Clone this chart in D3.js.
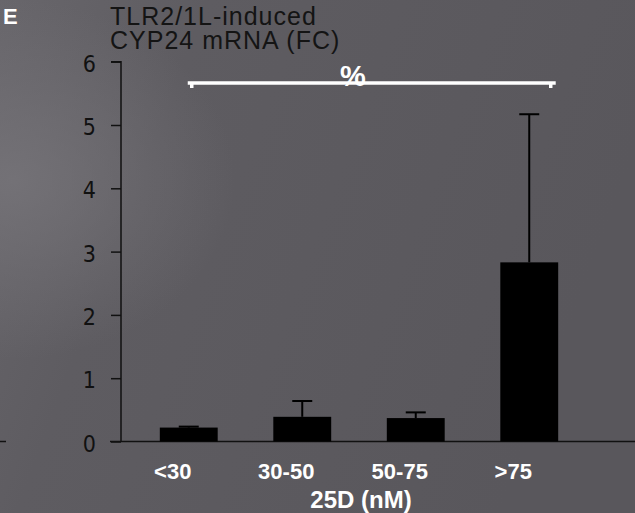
<!DOCTYPE html>
<html>
<head>
<meta charset="utf-8">
<script src="https://cdn.jsdelivr.net/npm/d3@7/dist/d3.min.js"></script>
<style>
  html, body { margin: 0; padding: 0; background: #5c5a5f; }
  svg { display: block; }
</style>
</head>
<body>
<svg id="chart" width="635" height="513"></svg>
<script>
// 25D concentration groups and CYP24 fold change (mean and upper error bound)
const categories = ["<30", "30-50", "50-75", ">75"];
const means = [0.22, 0.39, 0.37, 2.83];
const upperErr = [0.235, 0.64, 0.46, 5.17];
const yTicks = [0, 1, 2, 3, 4, 5, 6];

const svg = d3.select("#chart");
const W = 635, H = 513;
const SANS = "Liberation Sans, Arial, sans-serif";
const NARROW = "Liberation Sans Narrow, Arial Narrow, DejaVu Sans Condensed, sans-serif";

// backdrop: soft grey gradient with a lighter sweep at the upper left
const defs = svg.append("defs");
const lg = defs.append("linearGradient").attr("id", "bg")
  .attr("x1", "0").attr("y1", "0").attr("x2", "1").attr("y2", "0.3");
lg.append("stop").attr("offset", "0").attr("stop-color", "#68666b");
lg.append("stop").attr("offset", "0.3").attr("stop-color", "#5e5c61");
lg.append("stop").attr("offset", "1").attr("stop-color", "#59575c");
const rg = defs.append("radialGradient").attr("id", "glow")
  .attr("cx", "0.02").attr("cy", "0.35").attr("r", "0.35");
rg.append("stop").attr("offset", "0").attr("stop-color", "#77757a").attr("stop-opacity", 0.8);
rg.append("stop").attr("offset", "1").attr("stop-color", "#77757a").attr("stop-opacity", 0);

svg.append("rect").attr("width", W).attr("height", H).attr("fill", "url(#bg)");
svg.append("rect").attr("width", W).attr("height", H).attr("fill", "url(#glow)");

const x = d3.scaleBand()
  .domain(categories)
  .range([132, 586])
  .paddingInner(0.49)
  .paddingOuter(0.245);

const y = d3.scaleLinear().domain([0, 6]).range([441.5, 61.7]);
const axisX = 121;

// stray axis stub from the neighbouring panel
svg.append("line")
  .attr("x1", 0).attr("x2", 6).attr("y1", y(0)).attr("y2", y(0))
  .attr("stroke", "#111").attr("stroke-width", 1.5);

// panel letter
svg.append("text")
  .attr("x", 3).attr("y", 24)
  .attr("font-family", SANS)
  .attr("font-weight", "bold").attr("font-size", 22)
  .attr("fill", "#fff").text("E");

// y-axis title (two lines)
const title = svg.append("text")
  .attr("font-family", SANS)
  .attr("font-size", 25).attr("letter-spacing", 1)
  .attr("fill", "#141414");
title.append("tspan").attr("x", 110).attr("y", 25).text("TLR2/1L-induced");
title.append("tspan").attr("x", 110).attr("y", 49).text("CYP24 mRNA (FC)");

// y axis
const yAxis = d3.axisLeft(y).tickValues(yTicks).tickFormat(d3.format("d"))
  .tickSize(10).tickPadding(15);
const gy = svg.append("g").attr("transform", `translate(${axisX},0)`).call(yAxis);
gy.attr("font-size", null).attr("font-family", null);
gy.select(".domain").attr("stroke", "#111").attr("stroke-width", 1.5)
  .attr("d", `M-10,${y(6)}H0V${y(0)}`);
gy.selectAll(".tick line").attr("stroke", "#111").attr("stroke-width", 1.5);
gy.selectAll(".tick text")
  .style("font-family", NARROW)
  .style("font-size", "23px")
  .attr("fill", "#111").attr("dy", "0.42em");

// x baseline
svg.append("line")
  .attr("x1", 110).attr("x2", W).attr("y1", y(0)).attr("y2", y(0))
  .attr("stroke", "#111").attr("stroke-width", 1.5);

// bars
svg.append("g").selectAll("rect")
  .data(categories)
  .join("rect")
  .attr("x", d => x(d))
  .attr("width", x.bandwidth())
  .attr("y", (d, i) => y(means[i]))
  .attr("height", (d, i) => y(0) - y(means[i]))
  .attr("fill", "#000");

// upper error bars
const capW = 20;
const eb = svg.append("g").attr("stroke", "#000").attr("stroke-width", 2);
categories.forEach((c, i) => {
  const cx = x(c) + x.bandwidth() / 2;
  eb.append("line").attr("x1", cx).attr("x2", cx)
    .attr("y1", y(means[i])).attr("y2", y(upperErr[i]));
  eb.append("line").attr("x1", cx - capW / 2).attr("x2", cx + capW / 2)
    .attr("y1", y(upperErr[i])).attr("y2", y(upperErr[i]));
});

// category labels
svg.append("g").selectAll("text")
  .data(categories)
  .join("text")
  .attr("x", d => x(d) + x.bandwidth() / 2 - 16)
  .attr("y", 479)
  .attr("text-anchor", "middle")
  .attr("font-family", SANS)
  .attr("font-weight", "bold").attr("font-size", 22)
  .attr("fill", "#fff")
  .text(d => d);

// x-axis title
svg.append("text")
  .attr("x", 361).attr("y", 508)
  .attr("text-anchor", "middle")
  .attr("font-family", SANS)
  .attr("font-weight", "bold").attr("font-size", 24)
  .attr("fill", "#fff").text("25D (nM)");

// significance bracket between the lowest and highest groups
const bx1 = x(categories[0]) + x.bandwidth() / 2;
const bx2 = x(categories[3]) + x.bandwidth() * 0.94;
const by = 83;
const br = svg.append("g").attr("stroke", "#fff").attr("stroke-width", 3.5).attr("fill", "none");
br.append("line").attr("x1", bx1 - 1).attr("x2", bx2 + 1).attr("y1", by).attr("y2", by);
br.append("line").attr("x1", bx1 + 3).attr("x2", bx1 + 3).attr("y1", by).attr("y2", by + 5);
br.append("line").attr("x1", bx2 - 4).attr("x2", bx2 - 4).attr("y1", by).attr("y2", by + 5);
svg.append("text")
  .attr("x", 353).attr("y", 86)
  .attr("text-anchor", "middle")
  .attr("font-family", SANS)
  .attr("font-weight", "bold").attr("font-size", 29)
  .attr("fill", "#fff").text("%");
</script>
</body>
</html>
